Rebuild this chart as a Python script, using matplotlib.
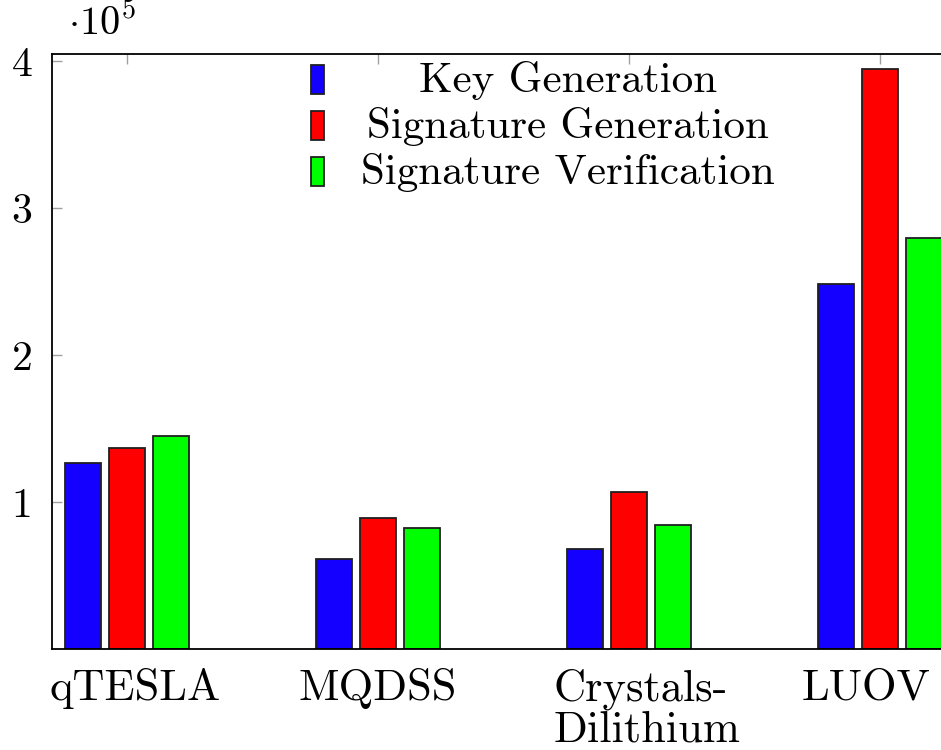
import matplotlib
matplotlib.use("Agg")
import matplotlib.pyplot as plt
import matplotlib.transforms as mtransforms
import numpy as np
from matplotlib.patches import Rectangle

plt.rcParams['font.family'] = ['cmr10', 'DejaVu Serif']
plt.rcParams['mathtext.fontset'] = 'cm'
plt.rcParams['axes.formatter.use_mathtext'] = True

categories = ["qTESLA", "MQDSS", "Crystals-\nDilithium", "LUOV"]
series_names = ["Key Generation", "Signature Generation", "Signature Verification"]
key_gen = [126500, 61200, 68000, 248300]
sig_gen = [136700, 89100, 106800, 394600]
sig_ver = [144900, 82300, 84400, 279600]
colors = ["#1400ff", "#ff0000", "#00ff00"]
yticks = [1e5, 2e5, 3e5, 4e5]
ytick_labels = ["1", "2", "3", "4"]

fig = plt.figure(figsize=(9.41, 7.5), dpi=100)
ax = fig.add_axes([52/941, 1-649/750, 903/941, (649-54)/750])

x = np.arange(len(categories))
w = 0.143
off = 0.175
for i, (vals, c) in enumerate(zip([key_gen, sig_gen, sig_ver], colors)):
    ax.bar(x + (i-1)*off, vals, width=w, color=c, edgecolor="#202020", linewidth=1.3, zorder=2)

ax.set_xlim(-0.3, 3.3)
ax.set_ylim(0, 4.05e5)
ax.set_xticks(x)
ax.set_xticklabels(categories, fontsize=32, linespacing=1.02, multialignment='left')
ax.set_yticks(yticks)
ax.set_yticklabels(ytick_labels, fontsize=30)
ax.tick_params(axis='both', direction='in', length=7, width=1, color='#a0a0a0',
               top=True, right=True)
ax.tick_params(axis='y', pad=14)
ax.tick_params(axis='x', pad=14)
for s in ax.spines.values():
    s.set_linewidth(1.3)
    s.set_color('black')

# small horizontal nudges of tick labels (pixels)
nudges = [8, 0, 18, -14]
for lab, dx in zip(ax.get_xticklabels(), nudges):
    lab.set_transform(lab.get_transform() + mtransforms.ScaledTranslation(dx/100, 0, fig.dpi_scale_trans))

ax.text((68-52)/903, 1 + (54-35)/595, r"$\cdot 10^{5}$", transform=ax.transAxes, fontsize=29,
        ha='left', va='baseline')

# legend
for i, (name, c) in enumerate(zip(series_names, colors)):
    yc = 1 - (80 + 46*i - 54) / 595
    ax.add_patch(Rectangle(((311-52)/903, yc - 14/595), 13/903, 29/595,
                           transform=ax.transAxes, facecolor=c, edgecolor="#202020",
                           linewidth=1.3, zorder=3))
    ax.text((568-52)/903, yc, name, transform=ax.transAxes, fontsize=31,
            ha='center', va='center')

fig.savefig("out.png", dpi=100)
